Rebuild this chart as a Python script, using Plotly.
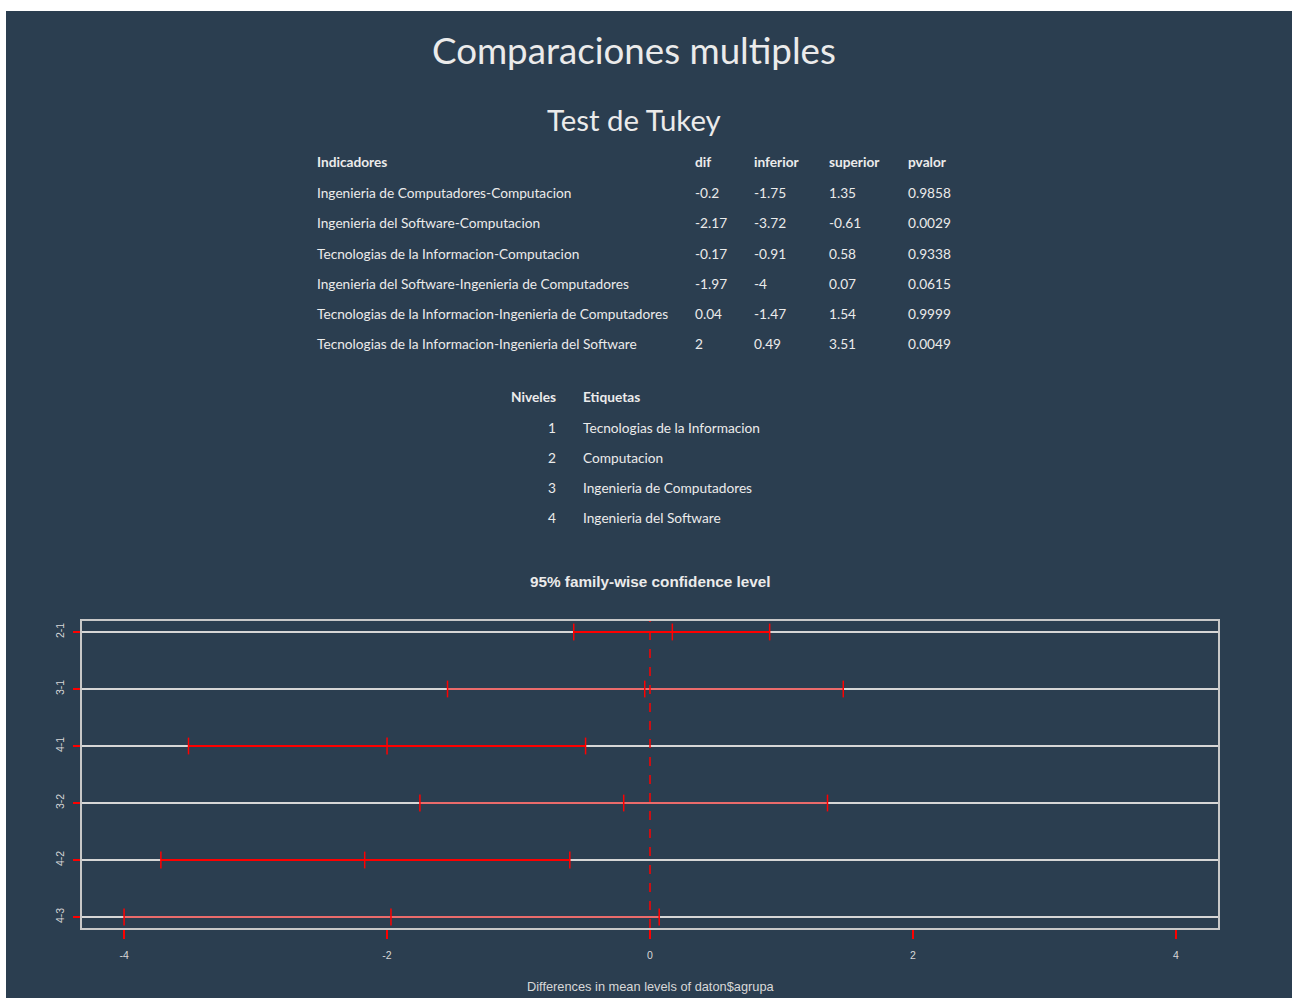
import plotly.graph_objects as go

# ---------------- data ----------------
indicadores = [
    "Ingenieria de Computadores-Computacion",
    "Ingenieria del Software-Computacion",
    "Tecnologias de la Informacion-Computacion",
    "Ingenieria del Software-Ingenieria de Computadores",
    "Tecnologias de la Informacion-Ingenieria de Computadores",
    "Tecnologias de la Informacion-Ingenieria del Software",
]
dif = ["-0.2", "-2.17", "-0.17", "-1.97", "0.04", "2"]
inferior = ["-1.75", "-3.72", "-0.91", "-4", "-1.47", "0.49"]
superior = ["1.35", "-0.61", "0.58", "0.07", "1.54", "3.51"]
pvalor = ["0.9858", "0.0029", "0.9338", "0.0615", "0.9999", "0.0049"]

niveles = ["1", "2", "3", "4"]
etiquetas = ["Tecnologias de la Informacion", "Computacion",
             "Ingenieria de Computadores", "Ingenieria del Software"]

# Tukey plot (top to bottom)
comparisons = ["2-1", "3-1", "4-1", "3-2", "4-2", "4-3"]
diff_vals = [0.17, -0.04, -2.00, -0.20, -2.17, -1.97]
lwr_vals = [-0.58, -1.54, -3.51, -1.75, -3.72, -4.00]
upr_vals = [0.91, 1.47, -0.49, 1.35, -0.61, 0.07]
line_widths = [2, 1, 2, 1, 2, 1]
x_ticks = [-4, -2, 0, 2, 4]

# ---------------- layout helpers ----------------
W, H = 1293, 998
L, R, T, B = 82, 1218, 621, 928  # plot frame in pixels
BG = "#2b3e50"
TXT = "#ebebeb"
TS = 13.7  # table font size


def px(x):
    return (x - L) / (R - L)


def py(y):
    return (B - y) / (B - T)


n = len(comparisons)
ypos = [n - i for i in range(n)]

fig = go.Figure()

for i, c in enumerate(comparisons):
    fig.add_trace(go.Scatter(
        x=[lwr_vals[i], diff_vals[i], upr_vals[i]],
        y=[ypos[i]] * 3,
        mode="lines+markers",
        line=dict(color="#ff0000", width=line_widths[i]),
        marker=dict(symbol="line-ns-open", size=12,
                    line=dict(color="#ff0000", width=1.5)),
        showlegend=False, hoverinfo="skip", name=c,
    ))

shapes = []
# dark page background
shapes.append(dict(type="rect", xref="paper", yref="paper",
                   x0=px(6), x1=px(1292), y0=py(998), y1=py(11),
                   fillcolor=BG, line=dict(width=0), layer="below"))
# zero line
shapes.append(dict(type="line", xref="x", yref="paper", x0=0, x1=0,
                   y0=0, y1=1, line=dict(color="#ff0000", width=1.5, dash="dash"),
                   layer="above"))

ann = []
ann.append(dict(text="Comparaciones multiples", x=px(634), y=py(50),
                font=dict(family="Lato", size=36.7, color=TXT)))
ann.append(dict(text="Test de Tukey", x=px(634), y=py(119),
                font=dict(family="Lato", size=29.4, color=TXT)))

# main table
col_x = [317, 695, 754, 829, 908]
headers = ["Indicadores", "dif", "inferior", "superior", "pvalor"]
row_y0, row_dy = 193, 30
for cx, h in zip(col_x, headers):
    ann.append(dict(text="<b>" + h + "</b>", x=px(cx - 2), y=py(162), xanchor="left",
                    font=dict(family="Lato", size=TS, color=TXT)))
for r in range(len(indicadores)):
    vals = [indicadores[r], dif[r], inferior[r], superior[r], pvalor[r]]
    for cx, v in zip(col_x, vals):
        ann.append(dict(text=v, x=px(cx - 2), y=py(row_y0 + r * row_dy), xanchor="left",
                        font=dict(family="Lato", size=TS, color=TXT)))

# levels table
ann.append(dict(text="<b>Niveles</b>", x=px(558), y=py(396), xanchor="right",
                font=dict(family="Lato", size=TS, color=TXT)))
ann.append(dict(text="<b>Etiquetas</b>", x=px(581), y=py(396), xanchor="left",
                font=dict(family="Lato", size=TS, color=TXT)))
for r in range(len(niveles)):
    ann.append(dict(text=niveles[r], x=px(558), y=py(427 + r * 30), xanchor="right",
                    font=dict(family="Lato", size=TS, color=TXT)))
    ann.append(dict(text=etiquetas[r], x=px(581), y=py(427 + r * 30), xanchor="left",
                    font=dict(family="Lato", size=TS, color=TXT)))

# plot title and axis title
ann.append(dict(text="<b>95% family-wise confidence level</b>", x=px(650), y=py(581),
                font=dict(family="Liberation Sans", size=15.3, color=TXT)))
ann.append(dict(text="Differences in mean levels of daton$agrupa", x=px(650), y=py(986),
                font=dict(family="Liberation Sans", size=12.8, color="#d8d8d8")))

for a in ann:
    a.update(xref="paper", yref="paper", showarrow=False)
    a.setdefault("xanchor", "center")
    a.setdefault("yanchor", "middle")

unit = (928 - 621 - 285) / 2 / 57.0
fig.update_layout(
    width=W, height=H,
    margin=dict(l=L, r=W - R, t=T, b=H - B, pad=0),
    paper_bgcolor="white",
    plot_bgcolor=BG,
    shapes=shapes,
    annotations=ann,
    xaxis=dict(range=[-4.32, 4.32], tickvals=x_ticks, ticktext=[str(v) for v in x_ticks],
               showgrid=False, zeroline=False, showline=True, mirror=True,
               linecolor="#c8c8c8", linewidth=1.5,
               ticks="outside", ticklen=9, tickcolor="#ff0000", tickwidth=1.5,
               tickfont=dict(family="Liberation Sans", size=10.5, color="#d8d8d8"),
               ticklabelstandoff=8),
    yaxis=dict(range=[1 - unit, n + unit], tickvals=ypos, ticktext=comparisons,
               showgrid=True, gridcolor="#d6d6d6", gridwidth=1.5, zeroline=False,
               showline=True, mirror=True, linecolor="#c8c8c8", linewidth=1.5,
               ticks="outside", ticklen=7, tickcolor="#ff0000", tickwidth=1.5,
               tickangle=-90,
               tickfont=dict(family="Liberation Sans", size=10.5, color="#d8d8d8"),
               ticklabelstandoff=5),
)

fig.write_html("out.html")
